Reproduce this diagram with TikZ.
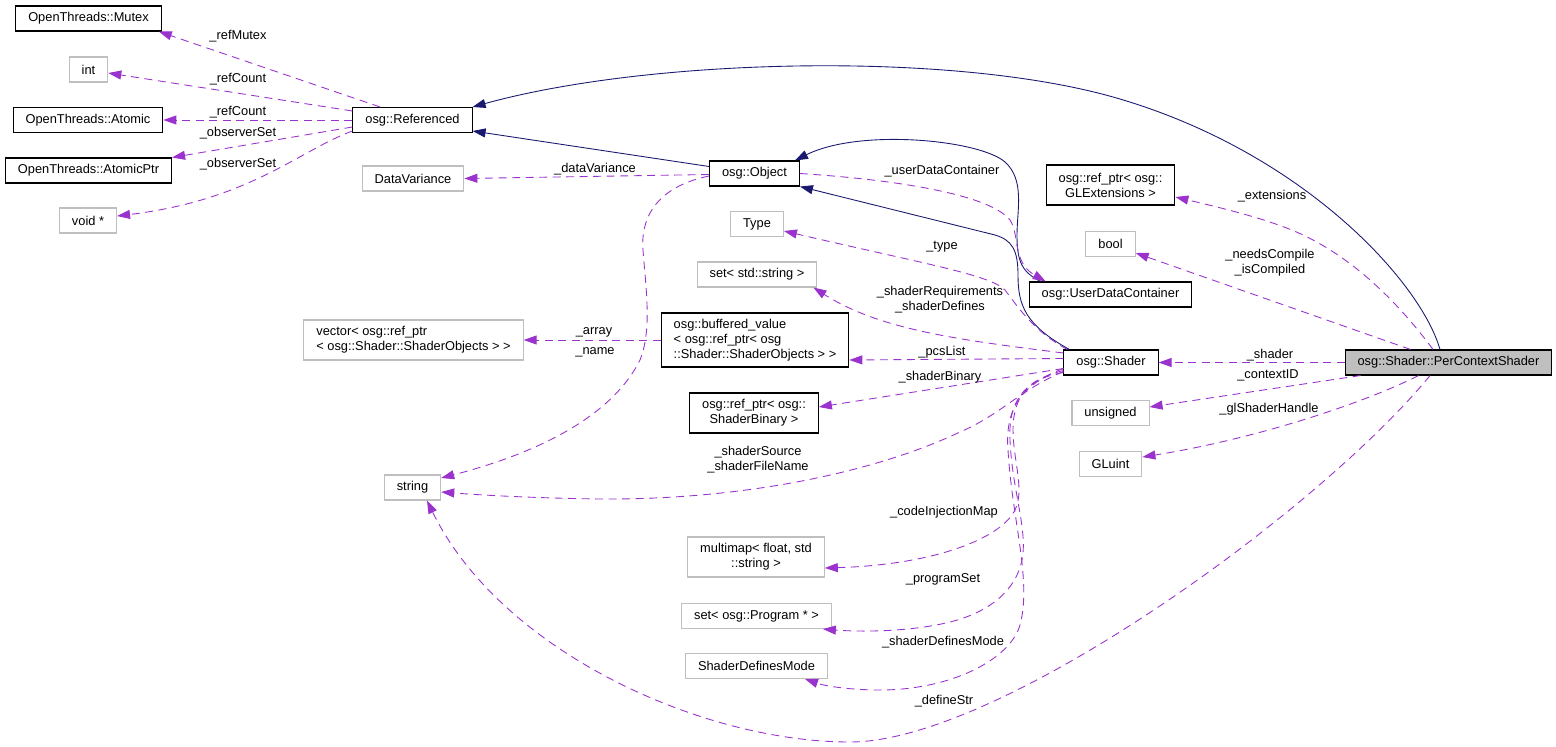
\documentclass[tikz,border=0pt]{standalone}
\usepackage{fontspec}
\setmainfont{Liberation Sans}
\usepackage{tikz}
\usetikzlibrary{arrows.meta}
\usetikzlibrary{positioning}
\definecolor{navyline}{HTML}{191970}
\definecolor{memberline}{HTML}{9A32CD}
\definecolor{grey75}{HTML}{BFBFBF}
\tikzset{cls/.style = {draw=black, fill=white, line width=0.6pt, inner xsep=0.25cm,
                       inner ysep=0pt, minimum height=0.5cm,
                       font=\fontsize{7.3}{8.5}\selectfont},
         undoc/.style = {cls, draw=grey75},
         twoline/.style = {minimum height=0.8cm, align=center},
         threeline/.style = {minimum height=1.08cm, align=left},
         lbl/.style = {inner sep=0pt, align=center, font=\fontsize{7.3}{8.5}\selectfont},
         inherit/.style = {draw=navyline, line width=0.5pt,
                           -{Triangle[length=0.26cm, width=0.18cm]}},
         member/.style = {draw=memberline, line width=0.5pt, dash pattern=on 0.16cm off 0.11cm,
                          -{Triangle[length=0.26cm, width=0.18cm]}}}

\begin{document}
\begin{tikzpicture}[x=0.02cm, y=-0.02cm]
  \useasboundingbox (0,0) rectangle (1556,747);

  % classes
  \node[cls]   (mutex)     at (88.5,18.5)  {OpenThreads::Mutex};
  \node[undoc] (int)       at (88.5,69.5)  {int};
  \node[cls]   (atomic)    at (88,120)     {OpenThreads::Atomic};
  \node[cls]   (atomicptr) at (88.5,170.5) {OpenThreads::AtomicPtr};
  \node[undoc] (voidp)     at (88,220.5)   {void *};

  \node[cls]   (ref)     at (412.5,120) {osg::Referenced};
  \node[undoc] (datavar) at (413,178.5) {DataVariance};
  \node[undoc, twoline, align=left] (vec) at (413.5,340) {vector< osg::ref\_ptr\\< osg::Shader::ShaderObjects > >};
  \node[undoc] (str)     at (412.5,487.5) {string};

  \node[cls]   (obj)     at (754.5,173.5) {osg::Object};
  \node[undoc] (type)    at (757,224)     {Type};
  \node[undoc] (setstr)  at (757,274.5)   {set< std::string >};
  \node[cls, threeline] (buf) at (755,340) {osg::buffered\_value\\< osg::ref\_ptr< osg\\::Shader::ShaderObjects > >};
  \node[cls, twoline] (binary) at (754,413) {osg::ref\_ptr< osg::\\ShaderBinary >};
  \node[undoc, twoline] (mmap) at (756,557) {multimap< float, std\\::string >};
  \node[undoc] (setprog) at (756.5,616)   {set< osg::Program * >};
  \node[undoc] (sdm)     at (756.5,666)   {ShaderDefinesMode};

  \node[cls, twoline] (ext) at (1110.5,185) {osg::ref\_ptr< osg::\\GLExtensions >};
  \node[undoc] (bool)     at (1110.5,244)   {bool};
  \node[cls]   (udc)      at (1110.5,294.5) {osg::UserDataContainer};
  \node[cls]   (shader)   at (1111,362.5)   {osg::Shader};
  \node[undoc] (unsigned) at (1110.5,413)   {unsigned};
  \node[undoc] (gluint)   at (1110.5,464)   {GLuint};

  \node[cls, fill=grey75] (pcs) at (1448.5,362.5) {osg::Shader::PerContextShader};

  % inheritance
  \draw[inherit] ([xshift=-0.17cm]pcs.north) .. controls (1420,280) and (1300,150) .. (1113,97)
                 .. controls (950,51) and (650,58) .. (ref.north east);
  \draw[inherit] ([yshift=0.14cm]obj.west) -- ([yshift=-0.22cm]ref.east);
  \draw[inherit] ([xshift=0.12cm]shader.north west) .. controls (1025,325) and (1018,305) .. (1018,275)
                 .. controls (1018,250) and (1012,240) .. (995,235) -- (obj.south east);
  \draw[inherit] ([xshift=0.24cm]udc.north west) .. controls (1022,272) and (1017,262) .. (1017,235)
                 .. controls (1017,210) and (1025,180) .. (1005,162)
                 .. controls (980,140) and (860,128) .. ([xshift=-0.1cm]obj.north east);

  % members of osg::Referenced
  \draw[member] ([xshift=-0.65cm]ref.north) -- ([xshift=-0.06cm]mutex.south east);
  \draw[member] ([yshift=0.18cm]ref.west) -- ([yshift=-0.07cm]int.east);
  \draw[member] (ref.west) -- (atomic.east);
  \draw[member] ([yshift=-0.14cm]ref.west) -- (atomicptr.north east);
  \draw[member] ([yshift=-0.22cm]ref.west) .. controls (300,150) and (250,200) .. ([yshift=0.09cm]voidp.east);
  \node[lbl] (lRefMutex)  at (238,36)  {\_refMutex};
  \node[lbl] (lRefCountA) at (238,79)  {\_refCount};
  \node[lbl] (lRefCountB) at (238,112) {\_refCount};
  \node[lbl] (lObserverA) at (238,133) {\_observerSet};
  \node[lbl] (lObserverB) at (238,164) {\_observerSet};

  % members of osg::Object
  \draw[member] ([yshift=-0.02cm]obj.west) -- (datavar.east);
  \draw[member] ([yshift=-0.05cm]obj.west) .. controls (665,185) and (640,210) .. (643,250)
                .. controls (646,290) and (652,330) .. (640,360)
                .. controls (610,420) and (530,455) .. ([yshift=0.19cm]str.east);
  \draw[member] (obj.east) .. controls (900,180) and (990,195) .. (1010,220)
                .. controls (1020,235) and (1012,262) .. ([xshift=0.34cm]udc.north west);
  \draw[member] (buf.west) -- (vec.east);
  \node[lbl] (lDataVar) at (595,169) {\_dataVariance};
  \node[lbl] (lArray)   at (594,332) {\_array};
  \node[lbl] (lName)    at (595,352) {\_name};
  \node[lbl] (lUdc)     at (942,171) {\_userDataContainer};

  % members of osg::Shader
  \draw[member] ([xshift=0.08cm]shader.north west) .. controls (1035,332) and (1020,310) .. (1005,290)
                .. controls (990,275) and (930,265) .. ([yshift=-0.14cm]type.east);
  \draw[member] ([yshift=0.19cm]shader.west) .. controls (960,340) and (880,330) .. ([xshift=-0.08cm]setstr.south east);
  \draw[member] ([yshift=0.08cm]shader.west) -- ([yshift=-0.4cm]buf.east);
  \draw[member] ([yshift=-0.12cm]shader.west) -- ([yshift=0.12cm]binary.east);
  \draw[member] ([yshift=-0.18cm]shader.west) .. controls (1020,390) and (1000,415) .. (960,432)
                .. controls (880,470) and (750,500) .. (600,499)
                .. controls (530,498) and (480,495) .. ([yshift=-0.09cm]str.east);
  \draw[member] ([yshift=0.06cm]shader.south west) .. controls (1030,378) and (1013,395) .. (1013,430)
                .. controls (1013,460) and (1025,490) .. (1015,510)
                .. controls (1000,540) and (930,565) .. ([yshift=-0.22cm]mmap.east);
  \draw[member] ([yshift=0.1cm]shader.south west) .. controls (1025,380) and (1008,400) .. (1010,440)
                .. controls (1012,490) and (1028,530) .. (1022,560)
                .. controls (1016,590) and (990,612) .. (950,622)
                .. controls (910,632) and (860,632) .. ([xshift=-0.18cm]setprog.south east);
  \draw[member] ([yshift=0.14cm]shader.south west) .. controls (1020,385) and (1005,410) .. (1008,450)
                .. controls (1012,520) and (1032,580) .. (1020,625)
                .. controls (1010,660) and (950,690) .. (880,690)
                .. controls (850,690) and (825,686) .. ([xshift=0.97cm]sdm.south);
  \node[lbl] (lType)    at (942,247)   {\_type};
  \node[lbl] (lReqs)    at (940,299.5) {\_shaderRequirements\\\_shaderDefines};
  \node[lbl] (lPcs)     at (942,352)   {\_pcsList};
  \node[lbl] (lBinary)  at (940,377)   {\_shaderBinary};
  \node[lbl] (lSource)  at (758,459.5) {\_shaderSource\\\_shaderFileName};
  \node[lbl] (lCodeMap) at (944,512)   {\_codeInjectionMap};
  \node[lbl] (lProgSet) at (943,579)   {\_programSet};
  \node[lbl] (lDefMode) at (943,642)   {\_shaderDefinesMode};

  % members of osg::Shader::PerContextShader
  \draw[member] (pcs.west) -- (shader.east);
  \draw[member] ([xshift=-0.31cm]pcs.north) .. controls (1400,305) and (1360,265) .. (1313,240)
                .. controls (1280,222) and (1230,210) .. ([yshift=-0.24cm]ext.east);
  \draw[member] ([xshift=1.32cm]pcs.north west) -- ([yshift=-0.18cm]bool.east);
  \draw[member] ([xshift=0.32cm]pcs.south west) -- ([yshift=0.12cm]unsigned.east);
  \draw[member] ([xshift=1.48cm]pcs.south west) .. controls (1360,405) and (1250,440) .. ([yshift=0.14cm]gluint.east);
  \draw[member] ([xshift=-0.37cm]pcs.south) .. controls (1320,510) and (1000,742) .. (850,742)
                .. controls (700,742) and (500,650) .. ([xshift=0.29cm]str.south);
  \node[lbl] (lExt)     at (1272,196) {\_extensions};
  \node[lbl] (lCompile) at (1270,263) {\_needsCompile\\\_isCompiled};
  \node[lbl] (lShader)  at (1270,355) {\_shader};
  \node[lbl] (lContext) at (1268,375) {\_contextID};
  \node[lbl] (lHandle)  at (1269,409) {\_glShaderHandle};
  \node[lbl] (lDefStr)  at (944,701)  {\_defineStr};
\end{tikzpicture}
\end{document}
